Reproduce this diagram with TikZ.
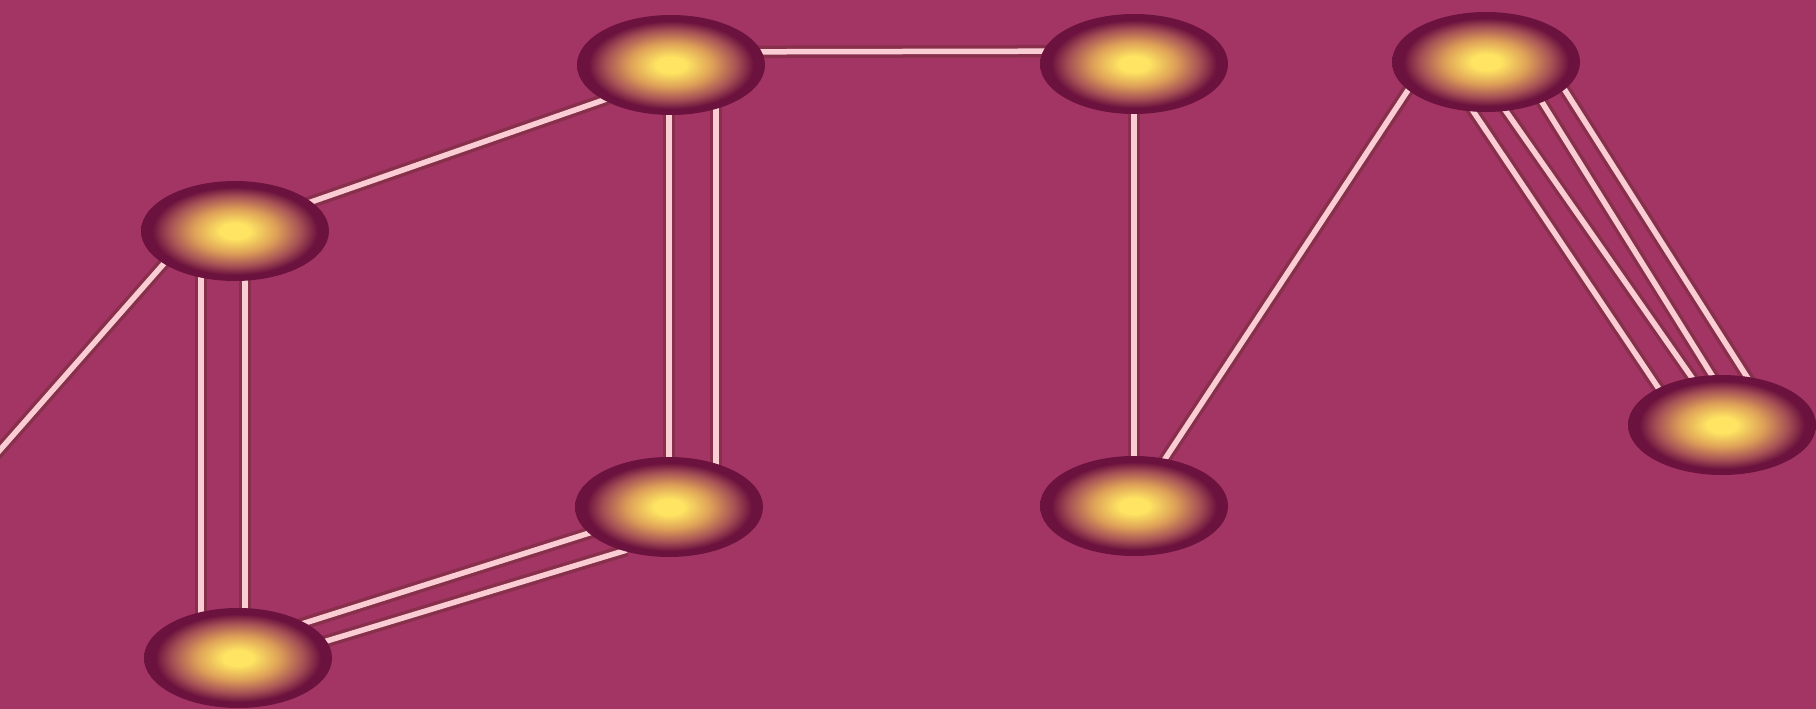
\documentclass[tikz,border=0pt]{standalone}
\usetikzlibrary{calc,shapes.geometric}
\definecolor{bgc}{RGB}{163,53,101}
\definecolor{bY}{RGB}{254,228,98}
\definecolor{bT}{RGB}{222,160,88}
\definecolor{bM}{RGB}{165,80,85}
\definecolor{bD}{RGB}{108,18,62}
\definecolor{bondpink}{RGB}{250,205,212}
\definecolor{bondshadow}{RGB}{110,45,50}
\pgfdeclareradialshading{ballshade}{\pgfpoint{0bp}{0bp}}{color(0bp)=(bY); color(4bp)=(bY); color(11bp)=(bT); color(17.5bp)=(bM); color(22bp)=(bD); color(25bp)=(bD); color(50bp)=(bD)}
\pgfdeclarelayer{bg}
\pgfdeclarelayer{bonds}
\pgfsetlayers{bg,bonds,main}
\newcommand\bondline[3][-10pt]{%
  \draw[bondhalo, shorten <=#1, shorten >=#1] #2 -- #3;
  \draw[bondcore, shorten <=#1, shorten >=#1] #2 -- #3;}
\begin{document}
\begin{tikzpicture}[x=1pt,y=-1pt,
  atom/.style={ellipse, minimum width=188pt, minimum height=100pt, inner sep=0pt, shading=ballshade},
  bondhalo/.style={draw=bondshadow, line width=12.5pt, opacity=0.5},
  bondcore/.style={draw=bondpink, line width=5.5pt}]
\useasboundingbox (0,0) rectangle (1816,709);
\begin{pgfonlayer}{bg}
  \fill[bgc] (0,0) rectangle (1816,709);
\end{pgfonlayer}
\node[atom] (A) at (235,231) {};
\node[atom] (B) at (671,65) {};
\node[atom] (C) at (1134,64) {};
\node[atom] (D) at (1486,62) {};
\node[atom] (E) at (1722,425) {};
\node[atom] (F) at (1134,506) {};
\node[atom] (G) at (669,507) {};
\node[atom] (H) at (238,658) {};
\coordinate (Lft) at (0,450);
\begin{pgfonlayer}{bonds}
  \bondline{($(A)+(-75,37)$)}{(Lft)}
  \bondline{($(A)+(76,-29)$)}{($(B)+(-73,37)$)}
  \bondline[0pt]{($(A)+(-34,0)$)}{($(H)+(-37,0)$)}
  \bondline[0pt]{($(A)+(10,0)$)}{($(H)+(7,0)$)}
  \bondline[0pt]{($(B)+(-2,0)$)}{($(G)+(0,0)$)}
  \bondline[0pt]{($(B)+(45,0)$)}{($(G)+(47,0)$)}
  \bondline[0pt]{($(B)+(0,-13)$)}{($(C)+(0,-13)$)}
  \bondline[0pt]{(C.center)}{(F.center)}
  \bondline[0pt]{(F.center)}{($(D)+(-41,-28)$)}
  \bondline{($(H)+(70,-36)$)}{($(G)+(-86,28)$)}
  \bondline{($(H)+(92,-18)$)}{($(G)+(-52,46)$)}
  \bondline[-18pt]{($(D)+(-9,55)$)}{($(E)+(-69,-45)$)}
  \bondline[-18pt]{($(D)+(24,55)$)}{($(E)+(-34,-53)$)}
  \bondline[-18pt]{($(D)+(59,45)$)}{($(E)+(-14,-56)$)}
  \bondline[-18pt]{($(D)+(82,33)$)}{($(E)+(18,-59)$)}
\end{pgfonlayer}
\end{tikzpicture}
\end{document}
